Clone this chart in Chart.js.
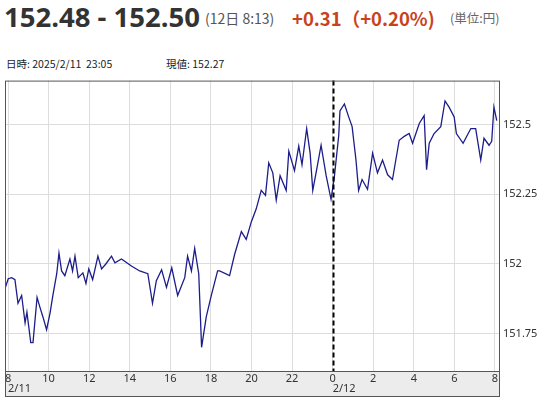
<!DOCTYPE html>
<html><head><meta charset="utf-8">
<script src="https://cdn.jsdelivr.net/npm/chart.js@4"></script>
<style>
body{margin:0;width:544px;height:400px;background:#fff;font-family:"Noto Sans CJK JP","Noto Sans",sans-serif;position:relative;overflow:hidden}
.t{position:absolute;white-space:nowrap}
#c{position:absolute;left:0;top:70px}
</style></head><body>
<div class="t" style="left:4px;top:-2px;font-size:27.5px;font-weight:bold;color:#333;font-family:'Open Sans',sans-serif">152.48 - 152.50</div>
<div class="t" style="left:205px;top:8px;font-size:14px;color:#555">(12日 8:13)</div>
<div class="t" style="left:292px;top:5px;font-size:18.5px;font-weight:bold;color:#c8431b">+0.31（+0.20%)</div>
<div class="t" style="left:450px;top:8px;font-size:12.5px;color:#666">(単位:円)</div>
<div class="t" style="left:6px;top:56px;font-size:10.5px;color:#222">日時: 2025/2/11&nbsp; 23:05</div>
<div class="t" style="left:166px;top:56px;font-size:10.5px;color:#222">現値: 152.27</div>
<canvas id="c" width="544" height="330"></canvas>
<script>
const hours=[7.85,8.01,8.18,8.34,8.49,8.67,8.84,8.93,9.12,9.23,9.43,9.57,9.72,9.90,10.07,10.21,10.40,10.51,10.64,10.80,11.05,11.18,11.30,11.46,11.69,11.84,11.98,12.17,12.43,12.61,12.82,13.10,13.27,13.59,14.08,14.49,14.89,15.12,15.31,15.57,15.81,16.07,16.36,16.71,16.85,17.04,17.20,17.40,17.54,17.77,18.02,18.33,18.43,18.92,19.17,19.50,19.74,19.99,20.23,20.48,20.69,20.85,21.05,21.22,21.41,21.71,21.84,22.12,22.33,22.49,22.72,22.89,23.02,23.21,23.43,23.68,23.92,24.08,24.30,24.36,24.58,24.79,24.96,25.15,25.28,25.45,25.72,25.97,26.21,26.46,26.71,26.95,27.28,27.53,27.77,27.94,28.27,28.51,28.63,28.76,29.00,29.33,29.54,29.74,29.99,30.10,30.43,30.81,31.05,31.30,31.46,31.71,31.84,31.95,32.09];
const prices=[151.912,151.947,151.951,151.944,151.859,151.887,151.789,151.827,151.718,151.718,151.880,151.845,151.810,151.764,151.824,151.887,151.965,152.039,151.975,151.958,152.018,151.975,152.028,151.951,151.968,151.930,151.982,151.944,152.028,151.982,152.000,152.028,152.004,152.018,151.993,151.975,151.965,151.859,151.940,151.979,151.916,151.986,151.887,151.951,152.028,151.975,152.056,151.965,151.701,151.810,151.887,151.975,151.975,151.958,152.035,152.116,152.088,152.151,152.197,152.264,152.246,152.363,152.327,152.229,152.317,152.264,152.405,152.335,152.423,152.356,152.486,152.398,152.264,152.338,152.426,152.317,152.232,152.310,152.461,152.549,152.574,152.528,152.493,152.373,152.264,152.303,152.268,152.398,152.327,152.373,152.320,152.303,152.444,152.458,152.468,152.433,152.504,152.532,152.338,152.433,152.468,152.493,152.585,152.563,152.528,152.468,152.433,152.486,152.486,152.373,152.451,152.426,152.440,152.563,152.514];
const xTicks=[8,10,12,14,16,18,20,22,24,26,28,30,32];
const yTicks=[151.75,152,152.25,152.5];
const dateLabels={8:'2/11',24:'2/12'};
const deco={id:'deco',
 beforeDraw(c){const {ctx,chartArea:a}=c;ctx.save();ctx.fillStyle='#ececec';ctx.fillRect(a.left,a.bottom,a.right-a.left,25);ctx.restore();},
 afterDraw(c){const {ctx,chartArea:a,scales:{x}}=c;ctx.save();
  const px=Math.round(x.getPixelForValue(24))+0.5;ctx.strokeStyle='#000';ctx.lineWidth=2;ctx.setLineDash([5,3]);
  ctx.beginPath();ctx.moveTo(px,a.top);ctx.lineTo(px,a.bottom);ctx.stroke();ctx.setLineDash([]);
  ctx.strokeStyle='#555';ctx.lineWidth=1;ctx.strokeRect(a.left+0.5,a.top+0.5,a.right-a.left,a.bottom-a.top);
  ctx.strokeRect(a.left+0.5,a.bottom+0.5,a.right-a.left,25);
  ctx.fillStyle='#333';ctx.font='11px "Noto Sans",sans-serif';ctx.textBaseline='top';
  for(const h in dateLabels){ctx.fillText(dateLabels[h],x.getPixelForValue(+h)+0,a.bottom+12);}
  ctx.restore();}};
new Chart(document.getElementById('c'),{type:'line',
 data:{datasets:[{data:hours.map((h,i)=>({x:h,y:prices[i]})),borderColor:'#1c1c8a',borderWidth:1.3,pointRadius:0,tension:0}]},
 options:{animation:false,responsive:false,events:[],
  layout:{padding:{top:6,left:5,bottom:4,right:0}},
  plugins:{legend:{display:false},tooltip:{enabled:false}},
  scales:{
   x:{type:'linear',min:7.85,max:32.2,afterBuildTicks(s){s.ticks=xTicks.map(v=>({value:v}));},
      afterFit(s){s.height=25;},
      grid:{color:'#dddddd',drawTicks:false},border:{display:false},
      ticks:{padding:1,color:'#333',font:{size:11,family:'Noto Sans'},maxRotation:0,autoSkip:false,callback:v=>String(v%24)}},
   y:{position:'right',min:151.616,max:152.658,afterBuildTicks(s){s.ticks=yTicks.map(v=>({value:v}));},
      afterFit(s){s.width=45;},
      grid:{color:'#dddddd',drawTicks:false},border:{display:false},
      ticks:{padding:4,color:'#333',font:{size:11,family:'Noto Sans'},callback:v=>String(v)}}
  }},plugins:[deco]});
</script></body></html>
